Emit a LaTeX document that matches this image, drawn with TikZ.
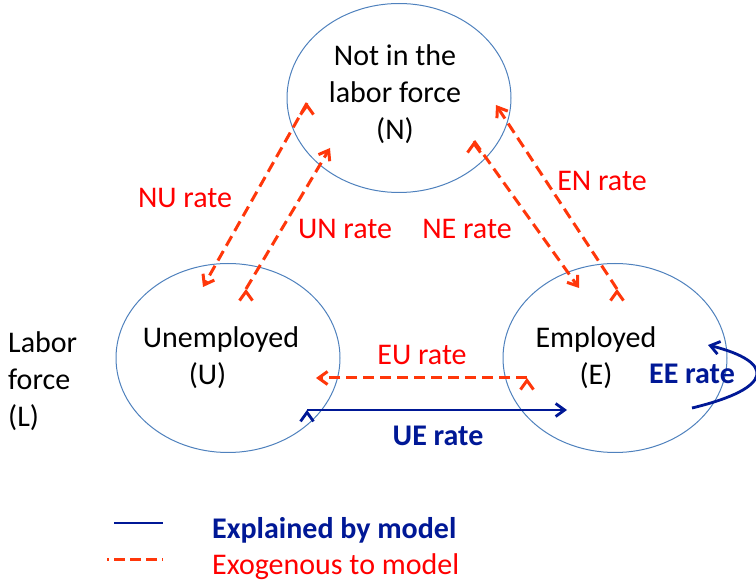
\documentclass[tikz,border=0pt]{standalone}
\usepackage{fontspec}
\setmainfont{Carlito}
\usetikzlibrary{arrows.meta,shapes.geometric}
\definecolor{LineBlue}{RGB}{79,129,189}
\definecolor{FlowRed}{RGB}{255,55,10}
\definecolor{TextRed}{RGB}{255,0,0}
\definecolor{ModelBlue}{RGB}{0,24,150}

\begin{document}
\begin{tikzpicture}[x=1pt,y=-1pt,font=\fontsize{30}{37}\selectfont]
	\useasboundingbox (0,0) rectangle (756,585);
	\tikzstyle{every node}=[inner sep=0pt]
	\tikzstyle{state}=[draw=LineBlue,line width=1pt,ellipse,minimum width=224pt,minimum height=189pt]
	\tikzstyle{exo}=[draw=FlowRed,line width=3pt,dash pattern=on 11pt off 6pt,-{Straight Barb[length=9pt,width=13pt]}]
	\tikzstyle{expl}=[draw=ModelBlue,line width=2.8pt,-{Straight Barb[length=9pt,width=13pt]}]
	\tikzstyle{rate}=[anchor=base,text=TextRed]
	\tikzstyle{brate}=[anchor=base,text=ModelBlue,font=\fontsize{30}{37}\selectfont\bfseries]

	%% States
	\draw (399,98) node [state] (N) {};
	\draw (228,358) node [state] (U) {};
	\draw (615,358) node [state] (E) {};
	\draw (395,140) node [anchor=base,align=center] (Ntxt) {Not in the\\labor force\\(N)};
	\draw (221,385) node [anchor=base,align=center] (Utxt) {Unemployed\\(U)\hspace*{27pt}};
	\draw (596,385) node [anchor=base,align=center] (Etxt) {Employed\\(E)};
	\draw (8,427) node [anchor=base west,align=left] (L) {Labor\\force\\(L)};

	%% Flow end points
	\coordinate (NUa) at (307,103);
	\coordinate (NUb) at (203,287);
	\coordinate (UNa) at (246,289);
	\coordinate (UNb) at (330,148);
	\coordinate (NEa) at (474,141);
	\coordinate (NEb) at (579,288);
	\coordinate (ENa) at (617,289);
	\coordinate (ENb) at (496,105);
	\coordinate (EUa) at (527,378);
	\coordinate (EUb) at (316,378);
	\coordinate (UEa) at (307,410);
	\coordinate (UEb) at (567,410);
	\coordinate (EEa) at (692,408);
	\coordinate (EEb) at (708,345);

	%% Flows
	\path [exo] (NUa) edge (NUb);
	\path [exo] (UNa) edge (UNb);
	\path [exo] (NEa) edge (NEb);
	\path [exo] (ENa) edge (ENb);
	\path [exo] (EUa) edge (EUb);
	\path [expl] (UEa) edge (UEb);
	\draw [expl] (EEa) .. controls (775,388) and (775,362) .. (EEb);

	%% Rates
	\draw (185,208) node [rate] (nu) {NU rate};
	\draw (345,239) node [rate] (un) {UN rate};
	\draw (467,239) node [rate] (ne) {NE rate};
	\draw (602,191) node [rate] (en) {EN rate};
	\draw (422,365) node [rate] (eu) {EU rate};
	\draw (438,446) node [brate] (ue) {UE rate};
	\draw (692,384) node [brate] (ee) {EE rate};

	%% Legend
	\coordinate (ka) at (114,523);
	\coordinate (kb) at (163,523);
	\coordinate (kc) at (107,560);
	\coordinate (kd) at (163,560);
	\draw [draw=ModelBlue,line width=2.8pt] (ka) -- (kb);
	\draw [draw=FlowRed,line width=3pt,dash pattern=on 11pt off 5pt,dash phase=9pt] (kc) -- (kd);
	\draw (212,539) node [anchor=base west,text=ModelBlue,font=\fontsize{30}{37}\selectfont\bfseries] (kexpl) {Explained by model};
	\draw (212,575) node [anchor=base west,text=TextRed] (kexo) {Exogenous to model};
\end{tikzpicture}
\end{document}
